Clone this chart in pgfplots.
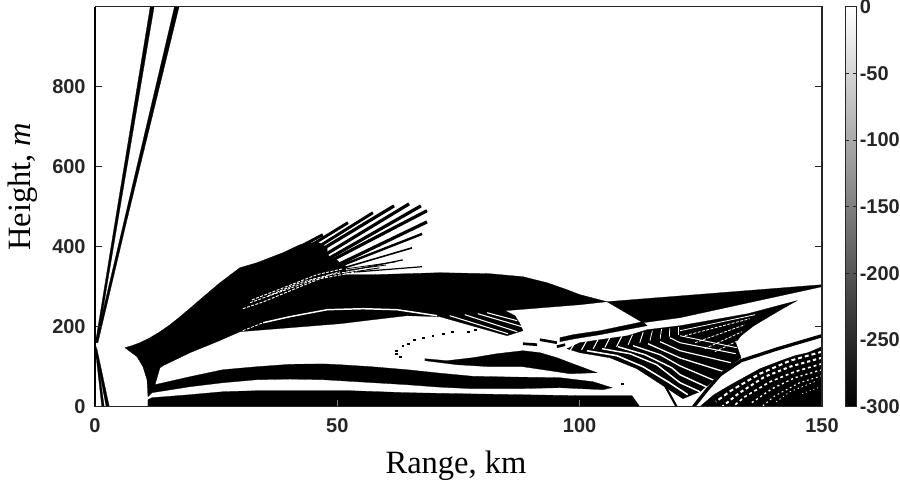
\documentclass[border=0pt]{standalone}
\usepackage{fontspec}
\setmainfont{Liberation Sans}
\newfontfamily\timesf{Liberation Serif}
\usepackage{pgfplots}
\pgfplotsset{compat=1.18}
\definecolor{axc}{HTML}{262626}
\pgfplotsset{
 blk/.style={fill=black,draw=black,line width=0.2pt},
 bl/.style={black,line width=#1,line cap=butt,no markers},
 wh/.style={white,line width=#1,line cap=butt,no markers},
 wd/.style={white,line width=#1,no markers,dash pattern=on 2.2pt off 1.1pt},
}
\begin{document}
\begin{tikzpicture}
\path[use as bounding box] (-71.25pt,-57.98pt) rectangle (603.75pt,305.03pt);
\begin{axis}[name=main,at={(0,0)},anchor=south west,scale only axis,width=545.25pt,height=300pt,
 xmin=0,xmax=150,ymin=0,ymax=1000,
 xtick={0,50,100,150},xticklabels={0,50,100,150},
 ytick={0,200,400,600,800},yticklabels={0,200,400,600,800},
 xtick pos=left,ytick pos=both,tick align=inside,major tick length=5pt,
 xtick style={color=gray,line width=0.7pt},ytick style={color=axc,line width=0.7pt},
 axis line style={color=axc,line width=0.7pt},
 tick label style={font=\fontsize{15}{16}\bfseries\selectfont,text=axc},
 xticklabel style={yshift=-5pt},
 yticklabel style={xshift=-3.5pt},
 xlabel={\timesf\fontsize{24.4}{26}\selectfont Range, km},
 xlabel style={at={(axis description cs:0.4966,-0.1675)},anchor=base},
 ylabel={\timesf\fontsize{24.4}{26}\selectfont Height, \textit{m}},
 ylabel style={at={(axis description cs:-0.0894,0.55)},anchor=base},
 axis on top,
 colorbar,point meta min=-300,point meta max=0,colormap/blackwhite,
 colorbar style={at={(parent axis.south east)},anchor=south west,xshift=9pt,
   scale only axis,width=8.25pt,height=300pt,
   ytick={-300,-250,-200,-150,-100,-50,0},
   yticklabels={-300,-250,-200,-150,-100,-50,0},
   yticklabel pos=right,tick align=inside,major tick length=2.5pt,
   axis line style={color=axc,line width=0.7pt},
   ytick style={color=axc,line width=0.7pt},
   yticklabel style={font=\fontsize{15}{16}\bfseries\selectfont,text=axc,xshift=-1pt},
 },
]
% rays
\addplot[blk] coordinates {(0.1,160)(0.5,160)(4.75,467)(12.2,1000)(11.4,1000)(4.2,467)} --cycle;
\addplot[blk] coordinates {(0.1,160)(0.6,160)(6.6,467)(17.35,1000)(16.4,1000)(6.05,467)} --cycle;
\addplot[blk] coordinates {(0,150)(0.25,150)(1.9,0)(1.4,0)} --cycle;
\addplot[blk] coordinates {(0,145)(0.4,145)(2.95,0)(2.3,0)} --cycle;
% main body with band 2
\addplot[blk] coordinates {(6.19,147.5)(7.7,153)(9.28,160)(11.3,172)(13.41,187.5)(15.5,205)(17.54,225)(19.6,246)(21.66,267.5)(25.79,310)(29.91,347.5)(33.42,360)(38.79,385)(42.29,405)(45.8,412)(47,405)(47.9,397)(47.9,385)(48.5,372)(49.9,367)(50.5,360)(52,350)(51.16,330)(57.35,330)(71.17,335)(81.49,332.5)(88.3,325)(93.25,310)(97.38,292.5)(100.06,280)(105.63,262.5)(100.06,255)(84.58,240)(86.65,227.5)(87.68,207.5)(88.3,190)(85.0,177.5)(71.17,225)(64.37,227.5)(57.35,217.5)(50.54,207.5)(40.23,197.5)(29.91,187.5)(25.17,162.5)(19.6,135)(14.03,102.5)(13.41,97.5)(12.38,55)(19.6,75)(26.41,92.5)(33.42,100)(40.23,106)(47.04,107)(50.54,105)(57,100)(64.37,92.5)(71,84)(77.98,76)(87,74)(95.93,72.5)(102.74,62.5)(106.66,47.5)(104.8,42.5)(95.93,47.5)(87,45)(77.98,45)(71,49)(64.37,55)(50.54,65)(47.04,67.5)(40.23,69)(33.42,67.5)(26.41,60)(19.6,50)(11.76,35)(10.93,25)(10.73,67.5)(9.9,100)(8.66,125)} --cycle;
% band 3
\addplot[blk] coordinates {(10.93,17.5)(11.76,22.5)(19.6,30)(26.41,37.5)(33.42,40)(52.6,40)(64.37,35)(75.3,32.5)(100.06,27.5)(110.8,27.5)(112.4,0)(10.93,0)} --cycle;
% band 4
\addplot[blk] coordinates {(68.08,120)(72.62,115)(77.98,122.5)(82.93,132.5)(88.3,140)(91.8,135)(95.3,122.5)(98,110)(103.56,85)(98,82.5)(88.3,100)(81.5,100)(74.68,105)(68.08,115)} --cycle;
% wedge and strip
\addplot[blk] coordinates {(105.63,262.5)(150,305)(150,300)(120.7,222.5)(113.05,210)} --cycle;
\addplot[blk] coordinates {(95.93,172.5)(98.6,180)(104.2,190)(113.05,212.5)(113.9,202.5)(104.2,180)(99,170)(95.93,162.5)} --cycle;
% streak tips, upper fan
\addplot[bl=2.2pt] coordinates {(42.3,400)(47.0,430)};
\addplot[bl=2.2pt] coordinates {(43.7,397)(52.2,460)};
\addplot[bl=2.2pt] coordinates {(44.4,387)(57.35,485)};
\addplot[bl=2.4pt] coordinates {(45,380)(61.7,502)};
\addplot[bl=2.4pt] coordinates {(46.4,372)(64.8,507)};
\addplot[bl=2.4pt] coordinates {(47,362)(67.25,502)};
\addplot[bl=2.4pt] coordinates {(47.9,360)(68.5,490)};
\addplot[bl=2.4pt] coordinates {(47.9,342)(68.5,462)};
\addplot[bl=1.8pt] coordinates {(48.5,342)(67.5,432)};
\addplot[bl=1.2pt] coordinates {(48.5,337)(65.4,397)};
\addplot[bl=0.9pt] coordinates {(48.5,330)(63.5,367)};
\addplot[bl=0.9pt] coordinates {(52,335)(67.5,350)};
\addplot[bl=0.7pt] coordinates {(50.5,332)(58.7,347)};
\addplot[bl=0.6pt] coordinates {(50,338)(60,354)};
\addplot[bl=0.6pt] coordinates {(52,345)(62,362)};
% white threads in main body
\addplot[wd=0.7pt] coordinates {(30.5,245)(34.7,262)(41.7,297)(48.5,330)(56,345)};
\addplot[wd=0.7pt] coordinates {(32.4,267)(38.8,297)(45.8,330)(51.2,345)};
\addplot[wd=0.7pt] coordinates {(32,260)(38.2,287)(45,317)(54,337)};
\addplot[wd=0.7pt] coordinates {(35.7,277)(42.3,310)(50.5,337)};
\addplot[wd=0.6pt] coordinates {(30.5,190)(34.7,210)};
\addplot[wh=1.1pt] coordinates {(34.7,210)(40.2,225)(47.9,242.5)(55.3,245)(62.3,242.5)(70.6,227.5)};
% fringes at end of arch
\addplot[wh=0.8pt] coordinates {(80.9,235)(87.1,215)};
\addplot[wh=0.8pt] coordinates {(79,232.5)(88.1,200)};
\addplot[wh=0.8pt] coordinates {(76.3,230)(87.1,187.5)};
\addplot[wh=0.8pt] coordinates {(73.2,227.5)(85.2,182.5)};
% dots
\addplot[only marks,mark=square*,mark size=0.7pt,black] coordinates {(78.4,192.5)(77,187.5)(73.7,187.5)(71.8,182.5)(69.7,177.5)(67.7,172.5)(65.8,167.5)(64.6,157.5)(63.5,152.5)(62.1,140)(62.1,132.5)(62.9,125)(108.7,57.5)};
% dashes left of the fan
\addplot[bl=2pt] coordinates {(88.3,157.5)(91.2,155)};
\addplot[bl=2pt] coordinates {(91.8,167.5)(95.3,160)};
\addplot[bl=2pt] coordinates {(95.3,150)(97,155)};
% lower fan
\addplot[blk] coordinates {(97.4,145)(100.06,160)(104.2,167.5)(109.96,177.5)(113.9,192.5)(120.7,202.5)(127.7,217.5)(134.7,232.5)(144.8,265)(141.5,242.5)(135.95,202.5)(133.3,177.5)(132.2,160)(133.3,122.5)(131,100)(128.3,72.5)(125.8,47.5)(124.8,37.5)(121.3,20)(117.2,52.5)(111.8,95)(106.2,122.5)(100.06,135)} --cycle;
\addplot[wh=1.2pt] coordinates {(101.5,140)(107.7,127.5)(113.05,100)(118.2,62.5)(122.3,30)};
\addplot[wh=1.1pt] coordinates {(104.6,145)(110.4,132.5)(115.9,105)(120.7,60)(124.8,37.5)};
\addplot[wh=1.1pt] coordinates {(107.9,150)(113.5,130)(119,97.5)(120.7,80)(126.5,47.5)};
\addplot[wh=1pt] coordinates {(111,152.5)(116.6,130)(120.7,102)(127.9,65)};
\addplot[wh=1pt] coordinates {(114.1,157.5)(120.7,122)(129.8,87.5)};
\addplot[wh=0.9pt] coordinates {(116.6,162.5)(120.7,140)(131.2,110)};
\addplot[wh=0.8pt] coordinates {(118.6,172.5)(120.7,160)(132.2,132.5)};
\addplot[wh=0.7pt] coordinates {(120.7,177.5)(132.4,147.5)};
\addplot[wh=0.8pt] coordinates {(99.02,159)(98.1,142)};
\addplot[wh=0.8pt] coordinates {(101.4,164)(100.4,142)};
\addplot[wh=0.8pt] coordinates {(103.8,168)(102.8,145)};
\addplot[wh=0.8pt] coordinates {(106.2,172)(105.2,148)};
\addplot[wh=0.8pt] coordinates {(108.7,176)(107.6,150)};
\addplot[wh=0.7pt] coordinates {(110.9,180)(110,155)};
\addplot[wh=0.7pt] coordinates {(113.1,186)(112.4,160)};
\addplot[wh=0.6pt] coordinates {(115,190)(114.5,165)};
\addplot[wh=0.6pt] coordinates {(116.9,194)(116.6,170)};
\addplot[wh=0.6pt] coordinates {(118.6,196)(118.5,175)};
\addplot[wh=0.5pt] coordinates {(120.3,200)(120.3,180)};
\addplot[wh=0.6pt] coordinates {(120.7,190)(136.2,230)};
\addplot[wd=0.6pt] coordinates {(121.7,177.5)(135.1,220)};
\addplot[wd=0.6pt] coordinates {(123.8,160)(134.1,205)};
\addplot[wd=0.6pt] coordinates {(125.8,145)(133.5,187.5)};
\addplot[wd=0.6pt] coordinates {(127.9,137.5)(133.1,167.5)};
\addplot[bl=1.6pt] coordinates {(117.5,55)(120,0)};
% separating band
\addplot[bl=2.5pt] coordinates {(150,177.5)(140.9,145)(133.3,115)(129,80)(126.3,42.5)(123.5,0)};
% lower right
\addplot[blk] coordinates {(150,150)(147.1,135)(144.4,127.5)(141.5,115)(137.2,95)(131.2,55)(127.7,30)(124.8,0)(150,0)} --cycle;
\addplot[white,line width=1.5pt,no markers,dash pattern=on 3pt off 2.2pt] coordinates {(150,137.5)(143.4,115)(137.2,82.5)(131.2,40)(128.1,12.5)};
\addplot[white,line width=1.5pt,no markers,dash pattern=on 2.4pt off 2.2pt] coordinates {(150,122.5)(143.4,100)(138.2,75)(132.7,32.5)(129.4,0)};
\addplot[white,line width=1.2pt,no markers,dash pattern=on 2.2pt off 2.2pt] coordinates {(150,107.5)(144.4,87.5)(139.3,62.5)(134.1,25)(131.6,0)};
\addplot[white,line width=1pt,no markers,dash pattern=on 1.6pt off 2.2pt] coordinates {(150,92.5)(144.4,72.5)(139.7,45)(135.5,10)};
\addplot[white,line width=0.8pt,no markers,dash pattern=on 1.3pt off 2.2pt] coordinates {(150,77.5)(145.4,60)(140.3,27.5)(137.6,0)};
\addplot[white,line width=0.6pt,no markers,dash pattern=on 1pt off 2.2pt] coordinates {(148.5,62.5)(143.4,37.5)(140.3,10)};
\addplot[white,line width=0.5pt,no markers,dash pattern=on 0.8pt off 2.2pt] coordinates {(149.2,47.5)(145.4,30)};
\end{axis}
\draw[color=black,line width=2.2pt] (main.south west)--(main.north west);
\draw[color=axc,line width=1.1pt] (main.south west)--(main.south east);
\draw[color=axc,line width=1.1pt] (main.south east)--(main.north east);
\end{tikzpicture}
\end{document}
